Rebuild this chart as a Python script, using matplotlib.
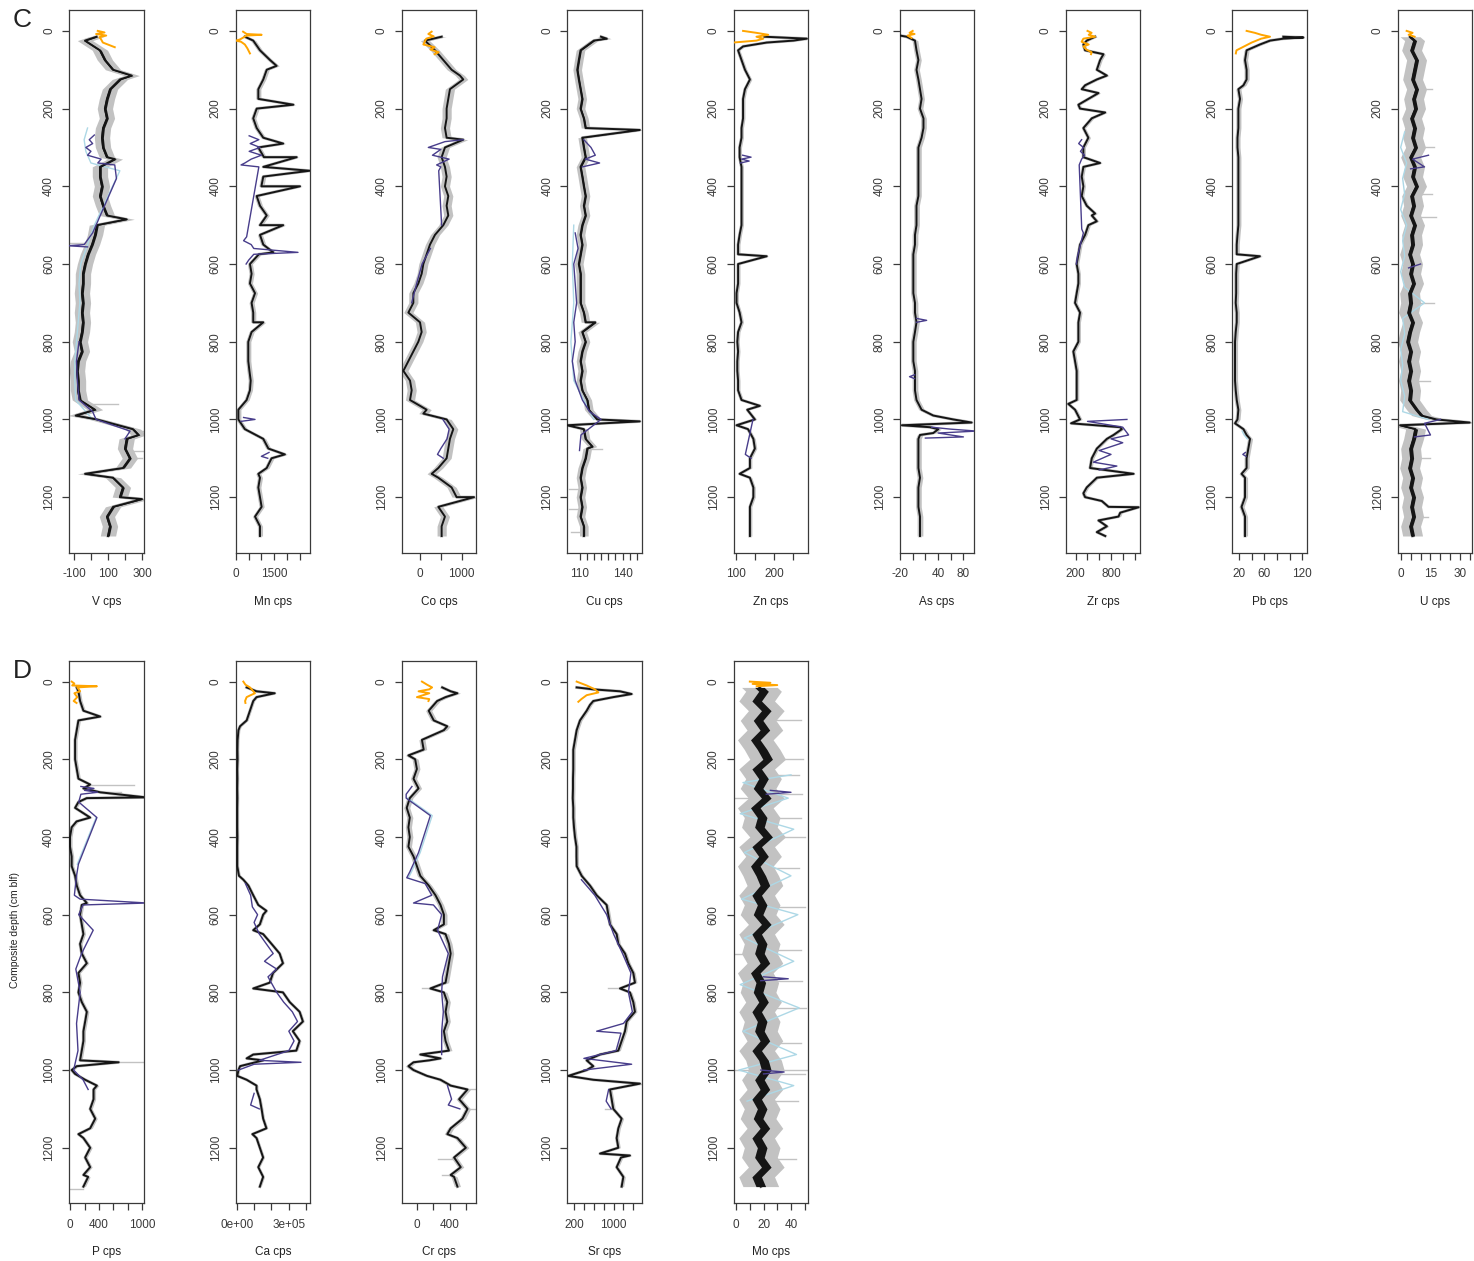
import numpy as np
import matplotlib
matplotlib.use("Agg")
import matplotlib.pyplot as plt

plt.rcParams['font.family'] = ['Liberation Sans', 'DejaVu Sans']

DEPTH = np.concatenate(([15], np.arange(25, 1301, 25)))

# ---- panel C ----
V_CPS = [33,
  -35, 53, 82, 130,   170, 112, 94, 82,   94, 71, 65, 71,   94, 53, 53, 65,
  53, 71, 94, 35,   24, 6, -18, -35,   -47, -47, -53, -47,   -53, -47, -53, -65,
  -53, -76, -82, -76,   -76, -65, 24, 35,   247, 210, 200, 229,   188, 130, 188, 170,
  130, 94, 112, 100]
V_SPIKES = [(115, 240), (330, 141), (485, 210), (990, -90), (1040, 280), (1140, -35), (1205, 300)]
V_STREAKS = [(960, 160), (1030, 309), (1080, 305), (1100, 300), (545, -125), (880, -125)]
V_TOP = [(0, 40), (4, 80), (8, 30), (12, 90), (16, 50), (22, 60), (30, 70), (42, 140)]
V_ALT = [(268, 20), (280, -10), (290, 10), (300, -30), (310, 0), (320, -20), (330, 60), (340, 40),
  (345, 140), (380, 150), (490, 40), (520, 10), (550, -40), (553, -135), (556, -20), None,
  (800, -70), (850, -85), (900, -80), (950, -70), (980, 10), (1000, 30), (1030, 230), (1050, 200)]
V_BLUE = [(250, -20), (280, -40), (310, -30), (340, 0), (360, 170), (500, 20), (550, -20),
  (600, -60), (650, -70), (700, -65), (750, -75), (800, -85), (850, -95), (900, -95), (950, -90), (1000, 10)]

MN_CPS = [350,
  680, 945, 1340, 1210,   1075, 880, 880, 815,   680, 815, 1075, 880,   1100, 1075, 1075, 1000,
  815, 945, 1210, 945,   945, 1075, 900, 550,   615, 550, 750, 615,   680, 680, 615, 485,
  485, 485, 530, 580,   550, 420, 95, 95,   350, 1075, 1275, 1400,   1210, 945, 880, 945,
  1010, 750, 945, 945]
MN_SPIKES = [(90, 1600), (190, 2260), (290, 1860), (325, 2390), (360, 2900), (400, 2520),
  (500, 1860), (570, 1470), (750, 1075), (1090, 1925), (1140, 880)]
MN_TOP = [(2, 280), (8, 420), (10, 1010), (12, 420), (22, 160), (25, 0), (28, 200), (35, 350), (45, 450), (58, 550)]
MN_ALT = [(270, 520), (280, 900), (290, 560), (300, 950), (310, 520), (320, 1000), (330, 600), (340, 350),
  (345, 200), (350, 900), (530, 420), (540, 300), (550, 600), (560, 700), (570, 2440), (575, 700),
  (590, 500), (600, 400), None, (995, 300), (1000, 750), (1005, 200), None, (1085, 1300), (1095, 1000), (1100, 1250)]

CO_CPS = [520,
  120, 360, 560, 760,   1040, 720, 680, 640,   640, 600, 640, 600,   520, 600, 640, 600,
  680, 640, 680, 560,   360, 240, 160, 80,   40, -40, -160, -160,   -280, 0, 40, -40,
  -160, -280, -400, -240,   -200, -240, 160, 640,   800, 720, 680, 640,   440, 440, 760, 880,
  440, 600, 520, 520]
CO_SPIKES = [(115, 960), (280, 1040), (985, 80), (1140, 280), (1200, 1300)]
CO_TOP = [(2, 280), (8, 200), (14, 330), (20, 150), (35, 80), (42, 350), (48, 250), (55, 450), (60, 350)]
CO_ALT = [(280, 1040), (285, 600), (300, 200), (305, 500), (320, 300), (330, 700), (345, 400), (350, 500),
  (360, 450), (500, 520), None, (560, 250), (600, 50), (650, -80), (700, -200), None,
  (1000, 550), (1025, 700), (1050, 650), (1075, 500), (1090, 420), (1100, 560)]

CU_CPS = [125,
  120, 110.7, 109.5, 108.4,   109.5, 110.7, 111.9, 110.7,   113, 114.2, 111.9, 113,   114.2, 110.7, 111.9, 113,
  114.2, 113, 114.2, 111.9,   110.7, 111.9, 110.7, 109.5,   110.7, 110.7, 110.7, 110.7,   113, 114.2, 111.9, 114.2,
  111.9, 110.7, 111.9, 110.7,   111.9, 115.4, 116.5, 122.3,   113, 114.2, 115.4, 114.2,   111.9, 110.7, 111.9, 110.7,
  111.9, 110.7, 113, 113]
CU_SPIKES = [(20, 129), (255, 152), (750, 121), (1005, 152), (1015, 101.5), (1070, 119)]
CU_STREAKS = [(1180, 103), (1230, 103), (1290, 104), (1075, 126)]
CU_ALT = [(280, 113), (300, 118), (320, 121), (330, 114), (340, 124), (350, 112), None,
  (520, 107), (560, 109), (600, 106), (650, 107), (700, 108), (750, 106), (800, 107), (850, 105),
  (900, 107), (950, 112), (980, 117), (1000, 125), (1040, 111), (1080, 110)]
CU_BLUE = [(500, 106), (600, 105), (700, 106), (800, 104), (900, 106), (1000, 120)]

ZN_CPS = [175,
  251, 106, 115, 124,   137, 124, 119, 119,   119, 115, 115, 110,   110, 115, 115, 115,
  115, 115, 115, 115,   110, 106, 106, 106,   106, 106, 102, 102,   110, 115, 106, 104,
  106, 104, 104, 106,   106, 115, 130, 150,   132, 146, 150, 137,   137, 137, 146, 146,
  137, 137, 137, 137]
ZN_SPIKES = [(20, 286), (30, 181), (40, 119), (580, 181), (965, 163), (1015, 102), (1140, 110)]
ZN_TOP = [(0, 119), (5, 154), (10, 185), (15, 154), (20, 172), (25, 154), (30, 93), (35, 92)]
ZN_ALT = [(320, 118), (325, 140), (330, 115), (335, 135), (340, 112), None,
  (1000, 145), (1090, 125), (1100, 140)]

AS_CPS = [-9.5,
  3.6, 6, 9, 6,   9, 11.5, 14, 11.5,   17, 17, 14, 9,   9, 9, 9, 9,
  9, 6, 6, 6,   3.6, 3.6, 1, 1,   1, 1, 1, 3.6,   3.6, 6, 3.6, 1,
  1, 1, 3.6, 3.6,   3.6, 6, 14, 64,   40.5, 9, 9, 9,   9, 11.5, 9, 9,
  9, 11.5, 11.5, 11.5]
AS_SPIKES = [(12, -20), (990, 32.5), (1008, 93), (1015, -17), (1020, 27), (1035, 32.5), (1040, 11.5)]
AS_TOP = [(0, 0), (5, -5), (8, 3), (12, -8), (18, -2)]
AS_ALT = [(740, 6), (745, 22), (750, 6), None, (885, 3), (890, -5), (895, 3), None,
  (1020, 30), (1025, 60), (1030, 101), (1035, 40), (1045, 80), (1048, 20)]

ZR_CPS = [530,
  387, 359, 615, 559,   559, 302, 415, 273,   473, 330, 415, 330,   330, 330, 302, 330,
  302, 387, 473, 415,   359, 273, 245, 216,   245, 245, 216, 188,   273, 245, 245, 245,
  159, 188, 216, 216,   216, 216, 188, 273,   985, 730, 559, 473,   444, 559, 387, 359,
  758, 928, 730, 701]
ZR_SPIKES = [(35, 330), (60, 672), (115, 730), (140, 359), (160, 587), (190, 245), (210, 701),
  (340, 615), (470, 530), (490, 559), (960, 73), (1010, 120), (1020, 957), (1040, 843),
  (1140, 1185), (1190, 330), (1210, 644), (1226, 1270), (1240, 957), (1260, 587), (1290, 559)]
ZR_TOP = [(0, 400), (5, 470), (10, 420), (15, 530), (20, 330), (28, 300), (35, 420), (40, 330),
  (48, 380), (55, 470), (60, 460)]
ZR_ALT = [(280, 300), (290, 250), (300, 330), (310, 280), (320, 350), (330, 300), (345, 259), (510, 302),
  (520, 330), (550, 280), (580, 230), (600, 210), None, (1000, 1071), (1005, 400), (1020, 1000),
  (1040, 1100), (1050, 800), (1060, 1000), (1080, 600), (1090, 800), (1110, 500), (1120, 900), (1130, 600)]

PB_CPS = [90,
  69, 32, 29.5, 32,   32, 19, 21.6, 19,   19, 19, 17.6, 17.6,   19, 19, 19, 19,
  19, 19, 19, 19,   17.6, 16.4, 16.4, 16.4,   15.5, 15.5, 15.5, 14.8,   16.4, 16.4, 14.8, 13.7,
  13.7, 13.7, 13.7, 13.7,   14.8, 16.4, 19, 17.6,   27, 37.4, 34.7, 32,   32, 29.5, 29.5, 29.5,
  24, 29.5, 29.5, 29.5]
PB_SPIKES = [(17, 121.6), (20, 90), (35, 53), (140, 27), (580, 53), (1010, 13.7), (1040, 32), (1140, 24)]
PB_TOP = [(0, 32), (5, 45), (10, 55), (15, 69), (20, 55), (30, 40), (40, 28), (50, 16), (58, 15)]
PB_ALT = [(1085, 30), (1090, 26), (1095, 31)]
PB_BLUE = [(1030, 25), (1040, 28), (1050, 33)]

U_CPS = [4.7,
  7, 5.5, 8, 7,   6, 8, 6.5, 7.5,   5.5, 7, 6, 7.5,   5, 7, 6, 8,
  5.5, 6.5, 5, 7,   5.5, 6, 4.5, 6,   5, 6.5, 4.5, 5,   4, 6, 4.5, 3.5,
  5, 4, 5, 4,   5, 4.5, 8, 18,   7.5, 6.5, 5, 5.5,   4.5, 6, 5, 6.5,
  5.5, 6.5, 5, 6]
U_SPIKES = [(990, 10.5), (1008, 34.7), (1015, -0.3)]
U_STREAKS = [(150, 16), (300, 17), (420, 16), (480, 18), (700, 17), (900, 15), (1100, 15), (1250, 14)]
U_TOP = [(0, 3), (5, 6), (10, 4), (15, 7)]
U_ALT = [(320, 14), (330, 6), (350, 12), (355, 5), None, (600, 10), (610, 4), None,
  (1000, 20), (1010, 12), (1040, 15), (1045, 7)]
U_BLUE = [(260, 2), (300, 0), (340, 3), (380, 1), (420, 2), (460, 0), (500, 3), (540, 1), (580, 2),
  (620, 0), (660, 2), (700, 12), (740, 1), (780, 2), (820, 0), (860, 1), (900, 0), (940, 2), (980, 1), (1000, 14)]

# ---- panel D ----
P_CPS = [93,
  116, 139, 185, 116,   93, 70, 70, 70,   93, 116, 185, 230,   70, 278, 23, 0,
  0, 23, 23, 70,   93, 139, 162, 139,   162, 185, 139, 162,   232, 116, 139, 116,
  162, 232, 209, 185,   185, 162, 139, 23,   209, 325, 325, 278,   348, 278, 185, 278,
  209, 278, 250, 185]
P_SPIKES = [(90, 417), (265, 278), (285, 417), (298, 1043), (310, 116), (360, 90), (570, 232),
  (980, 672), (990, 93), (1010, 70), (1040, 371), (1165, 116), (1270, 185)]
P_STREAKS = [(265, 880), (285, 700), (980, 1030), (1305, -10)]
P_TOP = [(0, 23), (5, 60), (10, 30), (12, 371), (15, 100), (25, 140), (30, 60), (40, 100), (50, 50), (55, 90)]
P_ALT = [(270, 150), (275, 330), (280, 200), (285, 380), (290, 150), (310, 120), (350, 371), (470, 116),
  (500, 90), (550, 60), (560, 140), (570, 1066), (575, 180), (600, 120), (640, 320), (700, 160),
  (740, 80), (800, 140), (880, 90), (950, 110), (1000, 50), (1025, 180), (1050, 250)]
P_BLUE = [(350, 360), (470, 100)]

CA_CPS = np.array([0.57,
  1.14, 0.95, 0.76, 0.57,   0.1, 0.05, 0.04, 0.05,   0.03, 0.04, 0.03, 0.04,   0.03, 0.03, 0.03, 0.04,
  0.03, 0.03, 0.03, 0.13,   0.67, 0.95, 1.24, 1.52,   1.33, 1.52, 2.0, 2.47,   2.66, 2.09, 1.9, 2.66,
  3.05, 3.62, 3.81, 3.23,   3.62, 3.43, 1.52, 0.1,   0.57, 1.14, 1.33, 1.43,   1.52, 1.71, 1.14, 1.33,
  1.52, 1.24, 1.52, 1.33]) * 1e5
CA_SPIKES = [(30, 2.19e5), (40, 1.14e5), (115, 0.19e5), (510, 0.38e5), (590, 1.71e5), (640, 0.95e5),
  (790, 0.95e5), (960, 0.95e5), (970, 0.57e5), (990, 0.19e5), (1015, 0.03e5), (1040, 1.14e5), (1165, 0.9e5)]
CA_TOP = [(0, 0.38e5), (8, 0.5e5), (15, 0.76e5), (22, 0.9e5), (30, 1.05e5), (35, 0.8e5), (40, 0.57e5),
  (50, 0.48e5), (55, 0.5e5)]
CA_ALT = [(520, 0.5e5), (550, 0.8e5), (580, 0.9e5), (600, 1.2e5), (620, 1.0e5), (650, 1.3e5), (700, 2.1e5),
  (720, 1.6e5), (740, 2.3e5), (760, 1.8e5), (800, 2.3e5), (825, 2.7e5), (850, 3.2e5), (875, 3.5e5),
  (900, 3.0e5), (925, 3.3e5), (950, 3.0e5), (975, 1.3e5), (980, 3.7e5), (985, 1.0e5), (1000, 0.1e5), None,
  (1060, 1.0e5), (1090, 0.8e5), (1100, 1.3e5)]

CR_CPS = [307,
  409, 245, 143, 204,   327, 61, 82, -21,   0, -41, 20, -86,   -123, -86, -103, -86,
  -103, -41, 0, 41,   143, 225, 286, 327,   327, 347, 388, 409,   388, 368, 347, 327,
  368, 347, 368, 327,   347, 388, 150, -41,   286, 613, 511, 613,   552, 409, 491, 593,
  450, 531, 450, 491]
CR_SPIKES = [(30, 491), (40, 347), (115, 368), (190, -103), (640, 204), (790, 163), (960, 41),
  (970, 286), (980, -41), (990, -103), (1015, 122), (1040, 409), (1165, 368), (1270, 409)]
CR_STREAKS = [(790, 60), (1050, 700), (1100, 710), (1230, 250), (1270, 300)]
CR_TOP = [(0, 61), (5, 100), (8, 123), (15, 184), (20, 150), (25, 20), (30, 150), (40, 0), (45, 150), (50, 140)]
CR_ALT = [(270, -60), (290, -130), (300, -130), (345, 163), (440, 20), (490, -86), (505, -123), (520, 100),
  (550, 180), (570, -41), (575, 200), (600, 300), (640, 250), (700, 380), (760, 310), (800, 300),
  (850, 320), (900, 300), (960, 300), None, (1040, 370), (1075, 420), (1090, 380), (1100, 520)]
CR_BLUE = [(300, -110), (345, 185), (440, 40), (490, -66), (505, -103)]

SR_CPS = [254,
  1129, 590, 456, 321,   254, 220, 186, 186,   186, 180, 180, 175,   186, 186, 200, 220,
  250, 250, 254, 355,   523, 658, 860, 894,   927, 1062, 1096, 1230,   1297, 1398, 1432, 1331,
  1398, 1432, 1264, 1230,   1163, 1096, 456, 456,   590, 927, 961, 994,   1163, 1096, 1062, 1096,
  1150, 1062, 1197, 1163]
SR_SPIKES = [(20, 590), (32, 1365), (40, 994), (60, 523), (790, 1129), (960, 725), (990, 590),
  (1015, 85), (1035, 1533), (1215, 725), (1220, 1331)]
SR_STREAKS = [(790, 880), (1100, 820), (1035, 1560)]
SR_TOP = [(0, 254), (10, 456), (20, 624), (28, 692), (35, 456), (45, 350), (52, 288)]
SR_ALT = [(510, 350), (550, 620), (600, 860), (650, 1000), (700, 1180), (750, 1350), (800, 1300),
  (850, 1380), (880, 1200), (900, 658), (905, 1150), (950, 1050), (970, 400), (985, 1365), (1000, 400),
  None, (1050, 900), (1080, 850), (1100, 950)]

MO_CPS = [17,
  20, 15, 22, 16,   21, 14, 19, 23,   15, 20, 16, 22,   14, 19, 17, 23,
  15, 20, 14, 18,   21, 15, 19, 16,   22, 15, 19, 17,   21, 14, 18, 16,
  20, 15, 19, 17,   21, 15, 20, 22,   17, 21, 15, 19,   16, 21, 15, 19,
  17, 22, 15, 18]
MO_STREAKS = [(100, 47), (200, 49), (240, 46), (290, 48), (350, 47), (400, 50), (480, 46), (580, 50),
  (690, 47), (770, 48), (840, 51), (930, 47), (1000, 52), (1010, 50), (1080, 45), (1230, 44),
  (300, -1), (700, -1), (1000, -1)]
MO_TOP = [(0, 10), (3, 25), (6, 12), (9, 30), (12, 15)]
MO_ALT = [(280, 25), (285, 40), (290, 22), None, (760, 20), (765, 38), (770, 18), None,
  (1000, 18), (1005, 35), (1010, 20)]
MO_BLUE = [(240, 40), (260, 5), (300, 38), (340, 3), (380, 42), (440, 6), (500, 40), (560, 4), (600, 45),
  (660, 6), (720, 42), (780, 3), (840, 46), (900, 5), (960, 44), (1000, 2), (1040, 42), (1080, 8)]

# per panel: label, values, spikes, grey streaks, grey half width, black half width,
# surface core, alt core, blue core, xlim, ticks, tick labels
ROW_C = [
  ("V cps", V_CPS, V_SPIKES, V_STREAKS, 45, 8, V_TOP, V_ALT, V_BLUE, (-129, 309),
   [-100, 0, 100, 200, 300], ["-100", "", "100", "", "300"]),
  ("Mn cps", MN_CPS, MN_SPIKES, [], 100, 0, MN_TOP, MN_ALT, [], (-10, 2920),
   [0, 500, 1000, 1500, 2000, 2500], ["0", "", "", "1500", "", ""]),
  ("Co cps", CO_CPS, CO_SPIKES, [], 110, 0, CO_TOP, CO_ALT, [], (-440, 1351),
   [0, 500, 1000], ["0", "", "1000"]),
  ("Cu cps", CU_CPS, CU_SPIKES, CU_STREAKS, 3.0, 0.6, [], CU_ALT, CU_BLUE, (101.5, 153.4),
   [110, 115, 120, 125, 130, 135, 140, 145, 150], ["110", "", "", "", "", "", "140", "", ""]),
  ("Zn cps", ZN_CPS, ZN_SPIKES, [], 5, 0, ZN_TOP, ZN_ALT, [], (94, 289),
   [100, 150, 200, 250], ["100", "", "200", ""]),
  ("As cps", AS_CPS, AS_SPIKES, [], 4.5, 0, AS_TOP, AS_ALT, [], (-20.5, 97),
   [-20, 0, 20, 40, 60, 80], ["-20", "", "", "40", "", "80"]),
  ("Zr cps", ZR_CPS, ZR_SPIKES, [], 35, 0, ZR_TOP, ZR_ALT, [], (29, 1297),
   [200, 400, 600, 800, 1000, 1200], ["200", "", "", "800", "", ""]),
  ("Pb cps", PB_CPS, PB_SPIKES, [], 4, 0, PB_TOP, PB_ALT, PB_BLUE, (9.4, 127),
   [20, 40, 60, 80, 100, 120], ["20", "", "60", "", "", "120"]),
  ("U cps", U_CPS, U_SPIKES, U_STREAKS, 5, 1.0, U_TOP, U_ALT, U_BLUE, (-1.5, 36),
   [0, 5, 10, 15, 20, 25, 30, 35], ["0", "", "", "15", "", "", "30", ""]),
]
ROW_D = [
  ("P cps", P_CPS, P_SPIKES, P_STREAKS, 28, 0, P_TOP, P_ALT, P_BLUE, (-14, 1014),
   [0, 200, 400, 600, 800, 1000], ["0", "", "400", "", "", "1000"]),
  ("Ca cps", CA_CPS, CA_SPIKES, [], 8000, 0, CA_TOP, CA_ALT, [], (-6000, 4.23e5),
   [0, 1e5, 2e5, 3e5, 4e5], ["0e+00", "", "", "3e+05", ""]),
  ("Cr cps", CR_CPS, CR_SPIKES, CR_STREAKS, 37, 0, CR_TOP, CR_ALT, CR_BLUE, (-184, 718),
   [0, 200, 400, 600], ["0", "", "400", ""]),
  ("Sr cps", SR_CPS, SR_SPIKES, SR_STREAKS, 40, 0, SR_TOP, SR_ALT, [], (65, 1570),
   [200, 400, 600, 800, 1000, 1200, 1400], ["200", "", "", "", "1000", "", ""]),
  ("Mo cps", MO_CPS, [], MO_STREAKS, 13, 3.5, MO_TOP, MO_ALT, MO_BLUE, (-1.9, 52.4),
   [0, 10, 20, 30, 40, 50], ["0", "", "20", "", "40", ""]),
]

GREY = "#c2c2c2"
BLACK = "#151515"
PURPLE = "#483d8b"
LBLUE = "#add8e6"
ORANGE = "#ffa500"
FRAME = "#3a3a3a"


def pairs_to_xy(pairs):
  d = [np.nan if p is None else p[0] for p in pairs]
  v = [np.nan if p is None else p[1] for p in pairs]
  return np.array(v, dtype=float), np.array(d, dtype=float)


def merged(values, spikes):
  d = np.concatenate([DEPTH, [s[0] for s in spikes]]).astype(float)
  v = np.concatenate([np.asarray(values, dtype=float), [s[1] for s in spikes]])
  order = np.argsort(d, kind="stable")
  return d[order], v[order]


def draw_panel(ax, spec):
  label, values, spikes, streaks, hw, core, top, alt, blue, xlim, ticks, ticklabels = spec
  d, v = merged(values, spikes)
  ax.fill_betweenx(d, v - hw, v + hw, color=GREY, lw=0, zorder=1)
  ax.plot(v, d, color=GREY, lw=2.2, zorder=1)
  # grey streaks of single noisy scans
  for sd, sv in streaks:
    ax.plot([np.interp(sd, d, v), sv], [sd, sd], color=GREY, lw=1.0, zorder=1)
  if blue:
    bx, by = pairs_to_xy(blue)
    ax.plot(bx, by, color=LBLUE, lw=1.0, zorder=2)
  if core > 0:
    ax.fill_betweenx(d, v - core, v + core, color=BLACK, lw=0, zorder=3)
  ax.plot(v, d, color=BLACK, lw=1.4, zorder=3)
  if alt:
    px, py = pairs_to_xy(alt)
    ax.plot(px, py, color=PURPLE, lw=1.0, zorder=4)
  if top:
    ox, oy = pairs_to_xy(top)
    ax.plot(ox, oy, color=ORANGE, lw=1.4, zorder=5)

  ax.set_xlim(*xlim)
  ax.set_ylim(1343, -53)
  ax.set_xticks(ticks)
  ax.set_xticklabels(ticklabels)
  ax.set_yticks(np.arange(0, 1201, 200))
  ax.tick_params(axis="x", length=5, width=0.9, pad=6, labelsize=8.5, colors=FRAME)
  ax.tick_params(axis="y", length=5, width=0.9, pad=5, labelsize=8.5, colors=FRAME,
                 labelrotation=90)
  for t in ax.get_yticklabels():
    t.set_va("center")
  for s in ax.spines.values():
    s.set_color(FRAME)
    s.set_linewidth(0.9)
  ax.text(0.5, -0.09, label, transform=ax.transAxes, ha="center", va="center",
          fontsize=8.5, color="#222222")


fig = plt.figure(figsize=(14.74, 12.61), dpi=100)
W, H = 1474.0, 1261.0
lefts = [69, 235.7, 401.7, 567.3, 733.5, 899.7, 1065.7, 1232.3, 1397.7]
width = 74.5

for i, spec in enumerate(ROW_C):
  ax = fig.add_axes([lefts[i] / W, 1 - 552.7 / H, width / W, 542.4 / H])
  draw_panel(ax, spec)
for i, spec in enumerate(ROW_D):
  ax = fig.add_axes([lefts[i] / W, 1 - 1203.3 / H, width / W, 542.3 / H])
  draw_panel(ax, spec)

fig.text(22 / W, 1 - 20 / H, "C", ha="center", va="center", fontsize=19, color="#222222")
fig.text(22 / W, 1 - 671 / H, "D", ha="center", va="center", fontsize=19, color="#222222")
fig.text(15 / W, 1 - 930 / H, "Composite depth (cm blf)", rotation=90, ha="center",
         va="center", fontsize=7.5, color="#222222")

fig.savefig("out.png", dpi=100)
